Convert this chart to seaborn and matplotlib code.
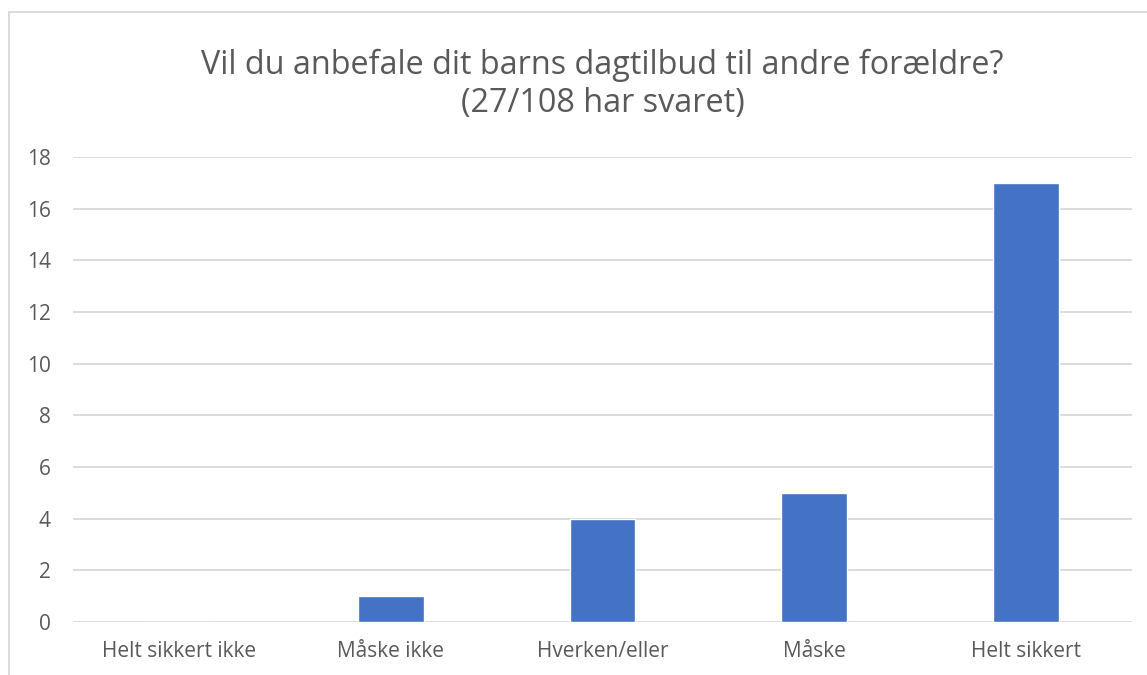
import pandas as pd
import seaborn as sns
import matplotlib.pyplot as plt
from matplotlib.patches import Rectangle

# Data
categories = ['Helt sikkert ikke', 'Måske ikke', 'Hverken/eller', 'Måske', 'Helt sikkert']
counts = [0, 1, 4, 5, 17]
title = 'Vil du anbefale dit barns dagtilbud til andre forældre?\n(27/108 har svaret)'

df = pd.DataFrame({'svar': categories, 'antal': counts})

sns.set_theme(style='white')
plt.rcParams['font.family'] = ['Open Sans', 'DejaVu Sans']

W, H = 1147, 675
fig = plt.figure(figsize=(W / 100, H / 100), dpi=100)
ax = fig.add_axes([73 / W, 1 - 622 / H, (1132 - 73) / W, (622 - 157) / H])

sns.barplot(data=df, x='svar', y='antal', color='#4472C4', width=0.31,
            saturation=1, ax=ax, zorder=3)

ax.set_ylim(0, 18)
ax.set_yticks(range(0, 19, 2))
ax.yaxis.grid(True, color='#D9D9D9', linewidth=1.3, zorder=0)
ax.set_axisbelow(True)
for s in ax.spines.values():
    s.set_visible(False)
ax.tick_params(axis='both', length=0, labelsize=15, labelcolor='#595959')
ax.tick_params(axis='x', pad=14)
ax.tick_params(axis='y', pad=16)
ax.set_xlabel('')
ax.set_ylabel('')

fig.text(0.5 * (73 + 1132) / W, 1 - 84 / H, title, ha='center', va='center',
         fontsize=23.3, color='#595959', linespacing=1.2)

# chart frame
fig.patches.append(Rectangle((9 / W, -0.1), 1.2, 1 - 12 / H + 0.1,
                             transform=fig.transFigure, fill=False,
                             edgecolor='#D9D9D9', linewidth=1.3))

fig.savefig('out.png', dpi=100)
